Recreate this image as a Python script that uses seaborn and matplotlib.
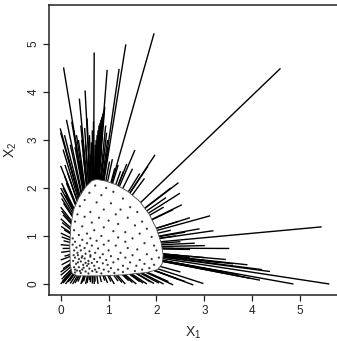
import numpy as np
import matplotlib
matplotlib.use("Agg")
import matplotlib.pyplot as plt
import seaborn as sns
import pandas as pd
from matplotlib.collections import LineCollection

# Boundary of the central region (x1, x2)
region_x = [0.75, 0.95, 1.15, 1.40, 1.65, 1.85, 2.00, 2.10, 2.14, 2.12, 2.02, 1.80, 1.30, 0.80,
            0.35, 0.24, 0.20, 0.19, 0.21, 0.27, 0.38, 0.52, 0.65]
region_y = [2.18, 2.14, 2.07, 1.93, 1.72, 1.45, 1.15, 0.85, 0.60, 0.42, 0.30, 0.24, 0.19, 0.17,
            0.17, 0.22, 0.40, 0.80, 1.20, 1.55, 1.80, 2.02, 2.15]

# Centre of the region (lines from outer points point towards it)
center_x = 0.68
center_y = 0.75

# Points inside the region
inner_x = [0.72, 0.95, 0.60, 1.10, 0.85, 0.50, 1.30, 0.75, 1.05, 1.45, 0.40, 0.90, 1.25, 0.62, 1.60, 1.15, 0.35,
           0.50, 0.80, 1.40, 1.00, 1.70, 0.30, 0.65, 1.20, 1.55, 0.45, 0.90, 1.80, 0.28, 0.70, 1.10, 1.35, 0.55,
           1.65, 0.38, 0.85, 1.90, 1.20, 0.25, 0.62, 1.50,
           0.45, 0.75, 1.00, 0.30, 1.35, 0.55, 1.75, 0.25, 0.40, 0.65, 0.90, 1.15, 1.95, 0.33, 0.50, 0.78, 1.40,
           1.60, 0.28, 0.42, 0.60, 1.00, 2.00, 0.35, 0.52, 0.72, 0.88, 1.25, 1.80, 0.27, 0.45, 0.62, 1.05, 1.50,
           0.30, 0.38, 0.50, 0.70, 0.82, 0.95, 1.20, 1.35, 1.65, 1.90, 2.05, 0.26, 0.42, 0.58, 0.65, 0.76, 0.88,
           1.10, 1.45, 1.75, 0.32, 0.47, 0.55, 0.70, 0.98, 1.30, 1.58, 1.95, 0.28, 0.38, 0.60, 0.80, 0.90, 1.05,
           1.20, 1.40, 1.70, 0.34, 0.45, 0.52, 0.66, 0.75, 1.00, 1.30, 1.55, 1.85, 0.30, 0.42, 0.58, 0.85, 1.12,
           0.36, 0.52, 0.44, 0.62, 0.36, 0.30, 0.48, 0.72, 0.58, 0.40]
inner_y = [2.05, 2.00, 1.90, 1.92, 1.85, 1.75, 1.78, 1.70, 1.68, 1.60, 1.62, 1.55, 1.55, 1.50, 1.50, 1.45, 1.45,
           1.40, 1.38, 1.38, 1.32, 1.30, 1.30, 1.28, 1.25, 1.22, 1.20, 1.18, 1.15, 1.12, 1.12, 1.10, 1.08, 1.05,
           1.05, 1.02, 1.00, 0.98, 0.97, 0.95, 0.95, 0.95,
           0.92, 0.90, 0.90, 0.88, 0.88, 0.85, 0.85, 0.82, 0.80, 0.80, 0.82, 0.80, 0.80, 0.76, 0.75, 0.74, 0.75,
           0.72, 0.70, 0.70, 0.68, 0.70, 0.70, 0.65, 0.63, 0.65, 0.62, 0.65, 0.62, 0.60, 0.58, 0.57, 0.58, 0.60,
           0.55, 0.52, 0.53, 0.52, 0.55, 0.50, 0.52, 0.55, 0.50, 0.52, 0.55, 0.48, 0.47, 0.48, 0.44, 0.46, 0.43,
           0.45, 0.45, 0.42, 0.42, 0.40, 0.38, 0.38, 0.40, 0.38, 0.38, 0.40, 0.35, 0.35, 0.32, 0.33, 0.30, 0.33,
           0.30, 0.32, 0.30, 0.28, 0.30, 0.26, 0.27, 0.25, 0.26, 0.25, 0.27, 0.33, 0.24, 0.23, 0.22, 0.22, 0.23,
           0.45, 0.44, 0.55, 0.60, 0.60, 0.30, 0.34, 0.30, 0.42, 0.27]

# Points outside the region (each joined to the region by a line)
outer_x = [0.06, 0.51, 0.39, 0.70, 0.97, 1.36, 1.22, 1.95, 4.59, 5.45, 5.61, 4.86,
           # top cluster
           0.92, 0.90, 0.88, 0.86, 0.84, 0.82, 0.80, 0.78, 0.76, 0.74, 0.72, 0.94, 0.96, 0.98, 1.00, 0.85,
           0.82, 0.90, 0.68, 0.66, 0.64, 0.62, 0.60, 0.58, 0.55, 0.52, 0.50, 0.47, 0.44, 0.42, 0.40, 0.37,
           0.33, 0.30, 0.27, 0.23, 0.20, 0.12, 0.08, -0.01, 0.00, 0.05, 0.15,
           # top right
           1.02, 1.08, 1.13, 1.20, 1.25, 1.31, 1.38, 1.55, 1.50, 1.65, 1.97, 1.75, 1.82,
           # right
           2.46, 2.30, 2.49, 2.20, 2.53, 2.35, 2.15, 3.12, 2.70, 2.45, 3.19, 2.90, 2.60, 2.40, 2.30, 3.01,
           3.52, 2.80, 2.50, 2.35, 2.70,
           # bottom right
           3.45, 3.00, 2.70, 2.45, 3.90, 3.60, 3.30, 4.37, 4.20, 4.16, 3.95, 3.70, 3.40, 3.10, 2.85, 2.60,
           2.98, 2.77, 2.60, 2.45, 2.35, 2.25, 2.15, 2.05, 2.50,
           # bottom
           0.30, 0.36, 0.42, 0.48, 0.55, 0.60, 0.66, 0.72, 0.78, 0.85, 0.92, 0.98, 1.05, 1.12, 1.20, 1.28,
           1.35, 1.42, 1.50, 1.58, 1.65, 1.72, 1.80, 1.88, 1.95, 0.33, 0.45, 0.52, 0.62, 0.70,
           # bottom-left corner
           0.00, 0.05, 0.10, 0.15, 0.20, 0.25, 0.02, 0.00, 0.08, 0.12, 0.03, 0.18, 0.06,
           # left
           0.00, 0.05, 0.02, 0.00, 0.08, 0.01, 0.04, 0.00, 0.06, 0.02, 0.00, 0.07, 0.01, 0.03, 0.00, 0.05,
           0.02, 0.00, 0.06, 0.02, 0.00, 0.05, 0.02, 0.08, 0.00, 0.09, 0.15, 0.00, 0.10, 0.12]
outer_y = [4.51, 4.03, 3.86, 4.82, 4.46, 4.99, 4.48, 5.22, 4.49, 1.19, 0.00, 0.00,
           3.69, 3.62, 3.55, 3.48, 3.42, 3.35, 3.30, 3.20, 3.10, 3.00, 2.90, 3.30, 3.15, 3.00, 2.85, 2.80,
           2.60, 2.70, 3.40, 3.20, 2.95, 2.70, 3.10, 2.55, 3.45, 2.90, 3.25, 2.70, 3.00, 3.30, 2.55, 3.00,
           3.10, 2.85, 3.20, 3.38, 2.90, 3.42, 3.10, 3.24, 3.15, 2.80, 2.65,
           2.55, 2.60, 2.41, 2.48, 2.35, 2.34, 2.50, 2.79, 2.40, 2.30, 2.69, 2.20, 2.45,
           2.11, 2.00, 1.89, 1.80, 1.65, 1.55, 1.60, 1.42, 1.38, 1.30, 1.11, 1.15, 1.08, 1.00, 1.12, 0.80,
           0.74, 0.85, 0.88, 0.78, 0.72,
           0.51, 0.55, 0.55, 0.60, 0.40, 0.42, 0.45, 0.26, 0.30, 0.08, 0.12, 0.20, 0.25, 0.30, 0.35, 0.40,
           0.01, -0.02, 0.05, 0.10, -0.02, 0.05, 0.00, 0.02, 0.25,
           0.02, 0.05, 0.00, 0.06, 0.02, 0.08, 0.01, 0.05, 0.00, 0.04, 0.07, 0.02, 0.05, 0.00, 0.06, 0.03,
           0.00, 0.07, 0.03, 0.00, 0.05, 0.02, 0.00, 0.04, 0.01, 0.07, 0.03, 0.00, 0.04, 0.00,
           0.00, 0.02, 0.00, 0.04, 0.01, 0.00, 0.10, 0.18, 0.08, 0.12, 0.05, 0.06, 0.14,
           0.25, 0.32, 0.40, 0.50, 0.58, 0.66, 0.74, 0.82, 0.90, 0.98, 1.06, 1.13, 1.20, 1.28, 1.36, 1.44,
           1.52, 1.60, 1.68, 1.78, 1.90, 2.00, 2.10, 2.25, 2.46, 2.48, 2.30, 2.00, 1.85, 2.10]

x_ticks = [0, 1, 2, 3, 4, 5]
y_ticks = [0, 1, 2, 3, 4, 5]
x_label = r"X$_1$"
y_label = r"X$_2$"


def boundary_hit(px, py, cx, cy, vx, vy):
    """Point where the segment centre -> (px, py) leaves the polygon."""
    vx = np.asarray(vx, float); vy = np.asarray(vy, float)
    ax_, ay_ = vx, vy
    bx_, by_ = np.roll(vx, -1), np.roll(vy, -1)
    rx, ry = px - cx, py - cy
    ex, ey = bx_ - ax_, by_ - ay_
    den = rx * ey - ry * ex
    with np.errstate(divide="ignore", invalid="ignore"):
        t = ((ax_ - cx) * ey - (ay_ - cy) * ex) / den
        u = ((ax_ - cx) * ry - (ay_ - cy) * rx) / den
    ok = (den != 0) & (t > 0) & (u >= 0) & (u <= 1)
    if not ok.any():
        return None
    tt = t[ok].max()
    if tt >= 1:
        return None
    return cx + tt * rx, cy + tt * ry


sns.set_style("ticks")
plt.rcParams["font.family"] = ["Liberation Sans", "DejaVu Sans"]
plt.rcParams["mathtext.fontset"] = "custom"
plt.rcParams["mathtext.rm"] = "Liberation Sans"
plt.rcParams["mathtext.it"] = "Liberation Sans"

fig = plt.figure(figsize=(3.37, 3.41), dpi=100)
ax = fig.add_axes([49 / 337, 46 / 341, 1 - 49 / 337, 290 / 341])

segs = []
for ox, oy in zip(outer_x, outer_y):
    hit = boundary_hit(ox, oy, center_x, center_y, region_x, region_y)
    if hit is not None:
        segs.append([hit, (ox, oy)])
ax.add_collection(LineCollection(segs, colors="black", linewidths=1.0, zorder=2))

ax.fill(region_x, region_y, facecolor="white", edgecolor="#444444", linewidth=0.6, zorder=3)

df = pd.DataFrame({"x1": inner_x, "x2": inner_y})
sns.scatterplot(data=df, x="x1", y="x2", ax=ax, s=2.5, color="#333333", edgecolor="none",
                marker="o", zorder=4, legend=False)

ax.set_xlim(-0.244, 5.77)
ax.set_ylim(-0.229, 5.81)
ax.set_xticks(x_ticks)
ax.set_yticks(y_ticks)
ax.set_xticklabels([str(t) for t in x_ticks])
ax.set_yticklabels([str(t) for t in y_ticks], rotation=90, va="center")
ax.tick_params(direction="out", length=4, width=0.9, labelsize=8.5, pad=3, colors="#222222")
for side in ["left", "bottom", "top"]:
    ax.spines[side].set_linewidth(1.1)
    ax.spines[side].set_color("#222222")
ax.spines["right"].set_visible(False)

ax.set_xlabel(x_label, fontsize=10, labelpad=6)
ax.set_ylabel(y_label, fontsize=10, labelpad=6)

fig.savefig("out.png", dpi=100)
